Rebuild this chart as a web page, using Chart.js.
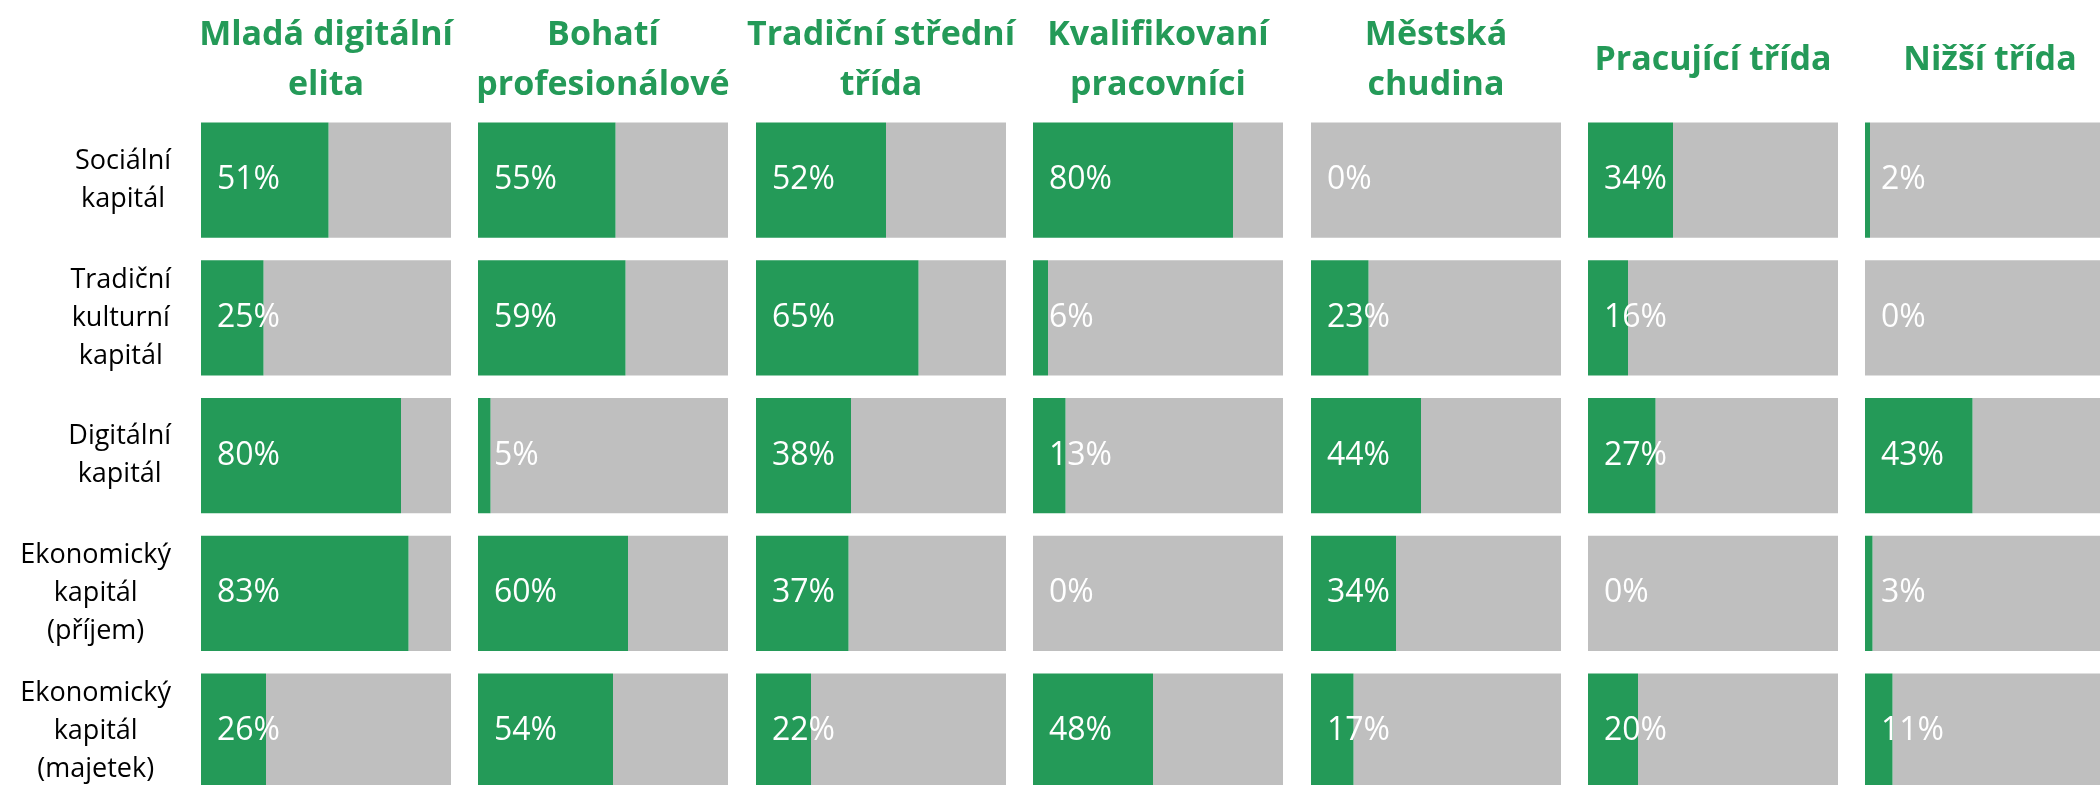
<!DOCTYPE html>
<html lang="cs">
<head>
<meta charset="utf-8">
<title>Kapitály podle tříd</title>
<script src="https://cdn.jsdelivr.net/npm/chart.js@4"></script>
<style>
  html, body { margin: 0; padding: 0; background: #fff; }
  body { width: 2100px; height: 785px; overflow: hidden; position: relative; }
  canvas { position: absolute; top: 0; }
</style>
</head>
<body>
<script>
const GREEN = '#249A58';
const GREY = '#BFBFBF';
const FONT = "'Open Sans', sans-serif";

// row labels (capital types)
const rowLabels = [
  ['Sociální', 'kapitál'],
  ['Tradiční', 'kulturní', 'kapitál'],
  ['Digitální', 'kapitál'],
  ['Ekonomický', 'kapitál', '(příjem)'],
  ['Ekonomický', 'kapitál', '(majetek)']
];

// column titles (classes)
const classTitles = [
  ['Mladá digitální', 'elita'],
  ['Bohatí', 'profesionálové'],
  ['Tradiční střední', 'třída'],
  ['Kvalifikovaní', 'pracovníci'],
  ['Městská', 'chudina'],
  ['Pracující třída'],
  ['Nižší třída']
];

// share in % per capital type, one array per class
const mladaDigitalniElita = [51, 25, 80, 83, 26];
const bohatiProfesionalove = [55, 59, 5, 60, 54];
const tradicniStredniTrida = [52, 65, 38, 37, 22];
const kvalifikovaniPracovnici = [80, 6, 13, 0, 48];
const mestskaChudina = [0, 23, 44, 34, 17];
const pracujiciTrida = [34, 16, 27, 0, 20];
const nizsiTrida = [2, 0, 43, 3, 11];

const classValues = [
  mladaDigitalniElita, bohatiProfesionalove, tradicniStredniTrida,
  kvalifikovaniPracovnici, mestskaChudina, pracujiciTrida, nizsiTrida
];

const PANEL_W = 250;
const FIRST_LEFT = 201;
const STEP = 277.4;
const CANVAS_H = 800;

// white % labels at the base of each green bar
const valueLabels = {
  id: 'valueLabels',
  afterDatasetsDraw(chart) {
    const ctx = chart.ctx;
    const area = chart.chartArea;
    const vals = chart.data.datasets[0].data;
    ctx.save();
    ctx.beginPath();
    ctx.rect(area.left, area.top, area.right - area.left, area.bottom - area.top);
    ctx.clip();
    ctx.font = '32px ' + FONT;
    ctx.fillStyle = '#fff';
    ctx.textAlign = 'left';
    ctx.textBaseline = 'middle';
    chart.getDatasetMeta(0).data.forEach((bar, i) => {
      ctx.fillText(vals[i] + '%', bar.base + 16, bar.y);
    });
    ctx.restore();
  }
};

// row captions left of the first column, lines centred inside each block
const rowCaptions = {
  id: 'rowCaptions',
  afterDraw(chart, args, opts) {
    if (!opts.show) return;
    const ctx = chart.ctx;
    const scale = chart.scales.y;
    const right = chart.chartArea.left - 30;
    const pitch = 38;
    ctx.save();
    ctx.font = '27px ' + FONT;
    ctx.fillStyle = '#000';
    ctx.textAlign = 'center';
    ctx.textBaseline = 'middle';
    chart.data.labels.forEach((lines, i) => {
      const w = Math.max(...lines.map(l => ctx.measureText(l).width));
      const cx = right - w / 2;
      const cy = scale.getPixelForValue(i);
      lines.forEach((l, j) => {
        ctx.fillText(l, cx, cy + (j - (lines.length - 1) / 2) * pitch);
      });
    });
    ctx.restore();
  }
};

classValues.forEach((values, i) => {
  const side = i === 0 ? FIRST_LEFT : 40;
  const canvas = document.createElement('canvas');
  canvas.width = PANEL_W + 2 * side;
  canvas.height = CANVAS_H;
  canvas.style.left = (FIRST_LEFT + i * STEP - side) + 'px';
  document.body.appendChild(canvas);

  const title = classTitles[i];
  const pad = title.length === 2 ? {top: 10, bottom: 1.25} : {top: 35.3, bottom: 25.95};
  const hiddenAxis = {
    display: true,
    ticks: {display: false},
    grid: {display: false},
    border: {display: false},
    afterFit: s => { s.width = side; }
  };

  new Chart(canvas, {
    type: 'bar',
    data: {
      labels: rowLabels,
      datasets: [
        {data: values, backgroundColor: GREEN, barPercentage: 0.835, categoryPercentage: 1},
        {data: values.map(v => 100 - v), backgroundColor: GREY, barPercentage: 0.835, categoryPercentage: 1}
      ]
    },
    options: {
      indexAxis: 'y',
      responsive: false,
      animation: false,
      devicePixelRatio: 1,
      layout: {padding: 0},
      scales: {
        x: {stacked: true, min: 0, max: 100, display: false},
        y: Object.assign({stacked: true, position: 'left'}, hiddenAxis),
        y2: Object.assign({type: 'category', position: 'right'}, hiddenAxis)
      },
      plugins: {
        legend: {display: false},
        tooltip: {enabled: false},
        title: {
          display: true,
          text: title,
          color: GREEN,
          font: {family: FONT, size: 34, weight: 'bold', lineHeight: '50px'},
          padding: pad
        },
        rowCaptions: {show: i === 0}
      }
    },
    plugins: [valueLabels, rowCaptions]
  });
});
</script>
</body>
</html>
